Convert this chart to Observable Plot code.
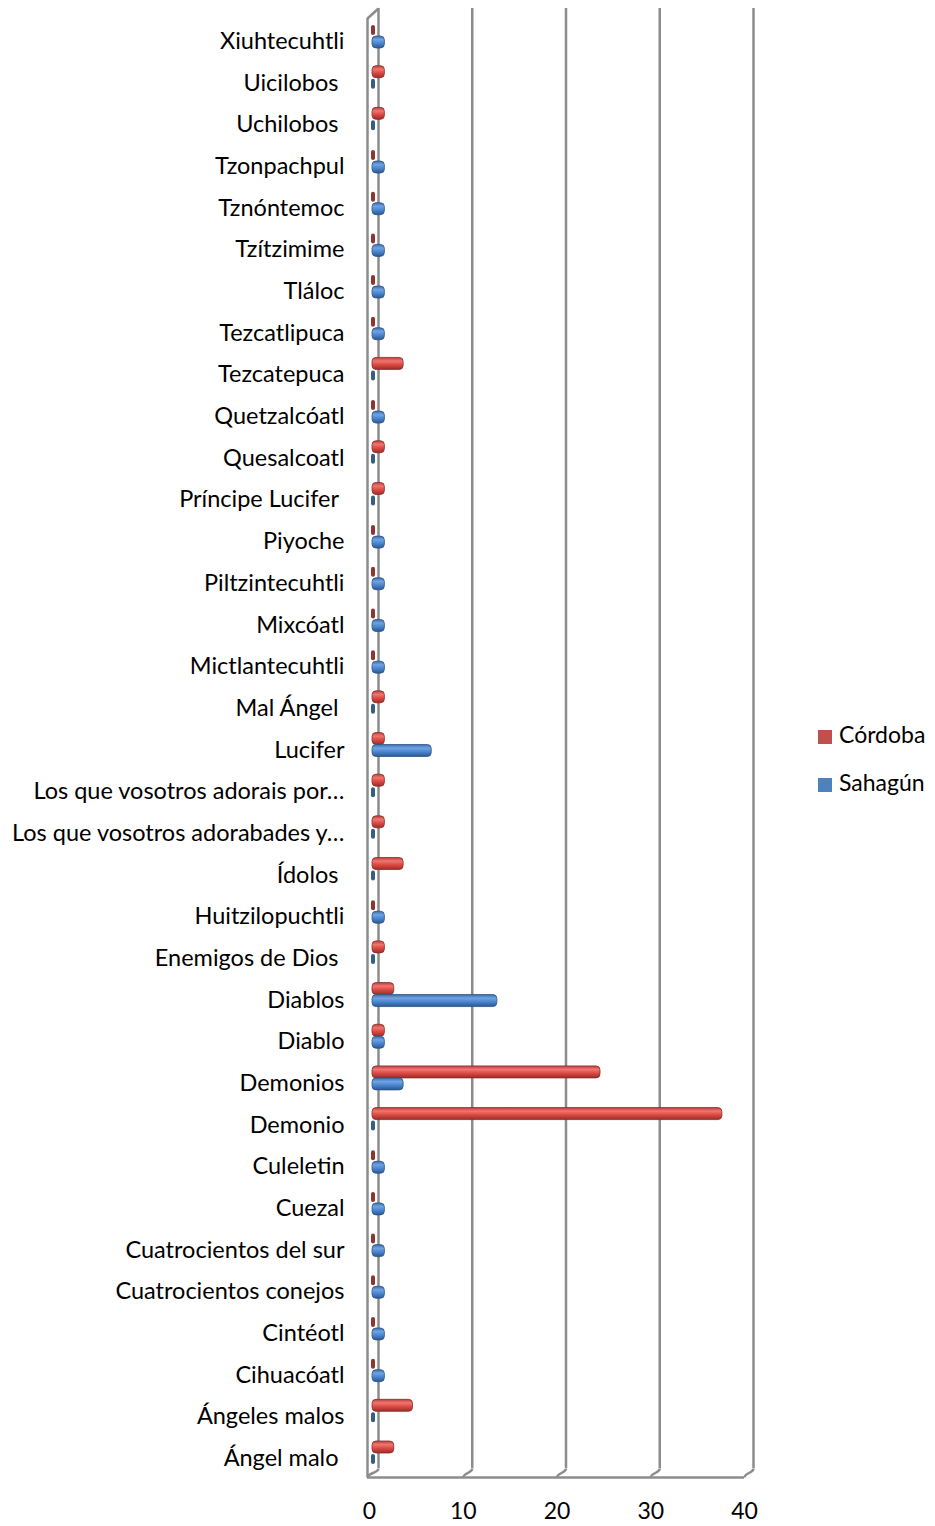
<!DOCTYPE html>
<html><head><meta charset="utf-8">
<script src="https://cdn.jsdelivr.net/npm/d3@7"></script>
<script src="https://cdn.jsdelivr.net/npm/@observablehq/plot@0.6"></script>
<style>
body{margin:0;background:#fff;}
#wrap{position:relative;width:935px;height:1526px;font-family:Lato,"Open Sans",sans-serif;}
#legend{position:absolute;left:818px;top:710px;font-size:23px;color:#000;line-height:48px;}
#legend .sw{display:inline-block;width:14px;height:14px;margin-right:7px;vertical-align:-1px;}
</style></head><body><div id="wrap"><div id="legend"></div></div>
<script>
const categories = ["Xiuhtecuhtli","Uicilobos\u00a0","Uchilobos\u00a0","Tzonpachpul","Tznóntemoc","Tzítzimime","Tláloc","Tezcatlipuca","Tezcatepuca","Quetzalcóatl","Quesalcoatl","Príncipe Lucifer\u00a0","Piyoche","Piltzintecuhtli","Mixcóatl","Mictlantecuhtli","Mal Ángel\u00a0","Lucifer","Los que vosotros adorais por…","Los que vosotros adorabades y…","Ídolos\u00a0","Huitzilopuchtli","Enemigos de Dios\u00a0","Diablos","Diablo","Demonios","Demonio","Culeletin","Cuezal","Cuatrocientos del sur","Cuatrocientos conejos","Cintéotl","Cihuacóatl","Ángeles malos","Ángel malo\u00a0"];
const cordoba = [0,1,1,0,0,0,0,0,3,0,1,1,0,0,0,0,1,1,1,1,3,0,1,2,1,24,37,0,0,0,0,0,0,4,2];
const sahagun = [1,0,0,1,1,1,1,1,0,1,0,0,1,1,1,1,0,6,0,0,0,1,0,13,1,3,0,1,1,1,1,1,1,0,0];
const xTicks = [0,10,20,30,40];
const seriesNames = ["Córdoba","Sahagún"];
const seriesColors = ["#C0504D","#4F81BD"];

// layout helpers (pixel geometry)
const W = 935, H = 1526;
const Y0 = 41, Y1 = 1458;                  // centers of first/last category
const U = (Y1 - Y0) / (categories.length - 1);
const XR = [369, 744];
const PX = (XR[1] - XR[0]) / 40;
const iy = p => (p - Y0) / U;             // pixel y -> index units
const ix = p => (p - XR[0]) / PX;         // pixel x -> data units

const rows = [];
categories.forEach((c, i) => {
  rows.push({i, s: 0, v: cordoba[i]});
  rows.push({i, s: 1, v: sahagun[i]});
});
const offs = [[-17, -5], [-5, 7]];
const bars = rows.filter(d => d.v > 0);
const zeros = rows.filter(d => d.v === 0);

const backDx = 9, backDy = 9;
const gridColor = "#8c8c8c";
const frontLeft = ix(367);

const plot = Plot.plot({
  width: W, height: H,
  marginLeft: XR[0], marginRight: W - XR[1], marginTop: 20, marginBottom: 48,
  style: {fontFamily: "Lato, 'Open Sans', sans-serif", fontSize: "23.5px", color: "#000", background: "transparent"},
  x: {domain: [0, 40], range: XR},
  y: {domain: [0, categories.length - 1], range: [Y0, Y1]},
  marks: [
    // back wall gridlines
    Plot.ruleX(xTicks, {x: d => d, y1: iy(8) + backDy / U, y2: iy(1468) + backDy / U, dx: backDx, dy: -backDy, stroke: gridColor, strokeWidth: 2.5}),
    // front floor edge
    Plot.ruleY([iy(1477)], {x1: frontLeft, x2: 40, stroke: gridColor, strokeWidth: 2.5}),
    // left front edge
    Plot.ruleX([frontLeft], {y1: iy(18), y2: iy(1477), stroke: gridColor, strokeWidth: 2.5}),
    // top-left slant
    Plot.link([0], {x1: frontLeft, y1: iy(18), x2: ix(XR[0] + backDx), y2: iy(8), stroke: gridColor, strokeWidth: 2.5}),
    // floor slants
    Plot.link(xTicks, {x1: d => d === 0 ? frontLeft : d, y1: iy(1477), x2: d => d + backDx / PX, y2: iy(1468), stroke: gridColor, strokeWidth: 2.5, curve: "bump-y"}),
    // zero stubs
    Plot.rect(zeros, {x1: 0, x2: 0, y1: d => d.i + (offs[d.s][0] + 1) / U, y2: d => d.i + (offs[d.s][1] - 1) / U,
      dx: 4, insetLeft: -2, insetRight: -2, rx: 2,
      fill: d => d.s === 0 ? "#8e3431" : "#355f80"}),
    // bars
    Plot.rect(bars, {x1: 0, x2: d => d.v, y1: d => d.i + offs[d.s][0] / U, y2: d => d.i + offs[d.s][1] / U,
      dx: 3, insetRight: -3, rx: 4,
      fill: d => d.s === 0 ? "url(#gRed)" : "url(#gBlue)",
      stroke: d => d.s === 0 ? "#8a2c29" : "#2c5788", strokeWidth: 0.8}),
    Plot.axisY(d3.range(categories.length), {tickFormat: i => categories[i], tickSize: 0, tickPadding: 25, fontSize: 23.5, label: null}),
    Plot.axisX(xTicks, {tickSize: 0, tickPadding: 24, fontSize: 23, label: null})
  ]
});

const defs = document.createElementNS("http://www.w3.org/2000/svg", "defs");
defs.innerHTML = `
<linearGradient id="gRed" x1="0" y1="0" x2="0" y2="1">
 <stop offset="0" stop-color="#b8423f"/><stop offset="0.3" stop-color="#f0756f"/>
 <stop offset="0.6" stop-color="#dc4a43"/><stop offset="1" stop-color="#9a2d2a"/>
</linearGradient>
<linearGradient id="gBlue" x1="0" y1="0" x2="0" y2="1">
 <stop offset="0" stop-color="#3c6dab"/><stop offset="0.3" stop-color="#6fa3e3"/>
 <stop offset="0.6" stop-color="#4b86cf"/><stop offset="1" stop-color="#2b5790"/>
</linearGradient>`;
plot.insertBefore(defs, plot.firstChild);
document.getElementById("wrap").appendChild(plot);

const legend = document.getElementById("legend");
seriesNames.forEach((n, k) => {
  const div = document.createElement("div");
  div.innerHTML = `<span class="sw" style="background:${seriesColors[k]}"></span>${n}`;
  legend.appendChild(div);
});
</script></body></html>
